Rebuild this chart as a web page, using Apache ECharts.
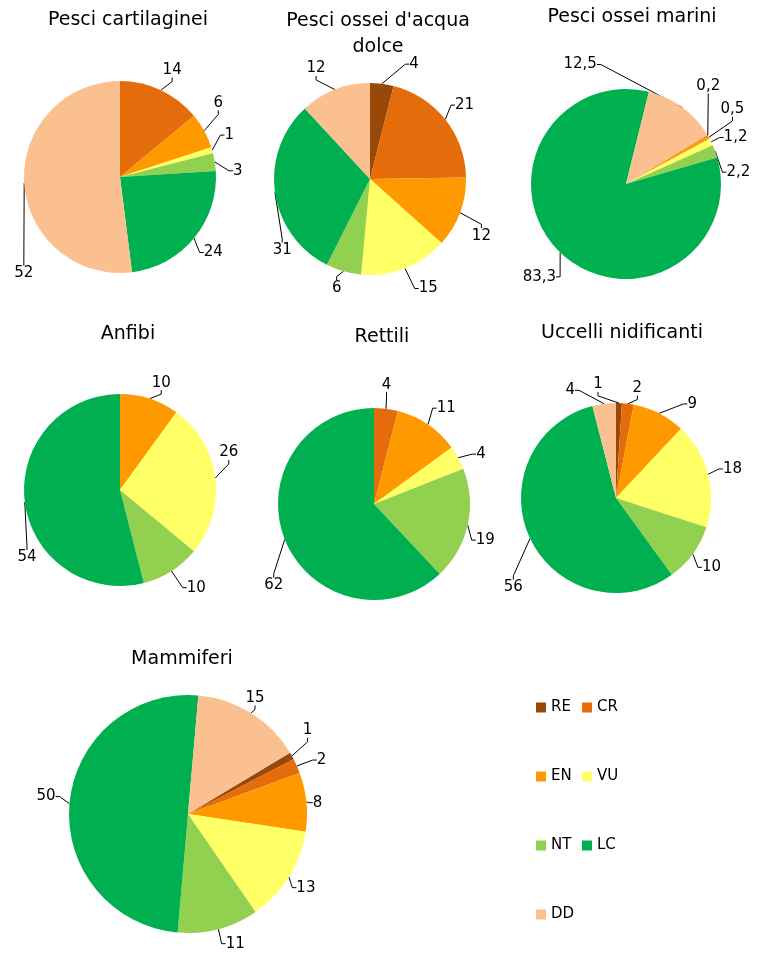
<!DOCTYPE html>
<html>
<head>
<meta charset="utf-8">
<script src="https://cdn.jsdelivr.net/npm/echarts@6/dist/echarts.min.js"></script>
<style>
html,body{margin:0;padding:0;background:#fff;}
#chart{width:759px;height:955px;}
</style>
</head>
<body>
<div id="chart"></div>
<script>
const categories = ['RE', 'CR', 'EN', 'VU', 'NT', 'LC', 'DD'];
const categoryColors = ['#984807', '#E46C0A', '#FF9900', '#FFFF66', '#92D050', '#00B050', '#FAC090'];

const titles = ['Pesci cartilaginei', "Pesci ossei d'acqua\ndolce", 'Pesci ossei marini', 'Anfibi', 'Rettili', 'Uccelli nidificanti', 'Mammiferi'];

const pesciCartilaginei = [null, 14, 6, 1, 3, 24, 52];
const pesciOsseiDolce = [4, 21, 12, 15, 6, 31, 12];
const pesciOsseiMarini = [null, 0.2, 0.5, 1.2, 2.2, 83.3, 12.5];
const anfibi = [null, null, 10, 26, 10, 54, null];
const rettili = [null, 4, 11, 4, 19, 62, null];
const uccelliNidificanti = [1, 2, 9, 18, 10, 56, 4];
const mammiferi = [1, 2, 8, 13, 11, 50, 15];

const seriesValues = [pesciCartilaginei, pesciOsseiDolce, pesciOsseiMarini, anfibi, rettili, uccelliNidificanti, mammiferi];

// ---- layout (positions / sizes / styles) ----
const pieCenters = [[120, 177], [370, 179], [626, 184], [120, 490], [374, 504], [616, 498], [188, 814]];
const pieRadii = [96, 96, 95, 96, 96, 95, 119];
const pieStartAngles = [90, 90, 31, 90, 90, 90, 31];
const titlePos = [[128, 20], [378, 34], [632, 17], [128, 334], [382, 337], [622, 333], [182, 659]];

// label placement: [angle clockwise from 12 o'clock (deg), distance from centre (px)], per category
const labelPlacement = [
  [null, [26, 119], [53, 123], [69, 117], [87, 118], [129, 120], [225, 136]],
  [[21, 123], [52, 120], [117, 125], [152, 124], [197, 114], [231, 113], [334, 123]],
  [null, [40, 128], [55, 130], [67, 119], [84, 113], [223, 127], [339, 128]],
  [null, null, [21, 115], [71, 115], [142, 124], [234, 115], null],
  [null, [6, 120], [37, 120], [65, 118], [108, 117], [231, 129], null],
  [[351, 115], [11, 112], [39, 121], [76, 120], [126, 118], [229, 136], [337, 117]],
  [[55, 146], [68, 144], [85, 130], [122, 139], [160, 138], [277, 143], [30, 134]]
];

const FONT = 'DejaVu Sans';

function fmt(v) { return String(v).replace('.', ','); }

const series = seriesValues.map((vals, i) => ({
  type: 'pie',
  center: pieCenters[i],
  radius: pieRadii[i],
  startAngle: pieStartAngles[i],
  clockwise: true,
  animation: false,
  silent: true,
  avoidLabelOverlap: false,
  data: vals.map((v, k) => v == null ? null : ({
    name: categories[k], value: v, itemStyle: { color: categoryColors[k] }
  })).filter(d => d !== null),
  label: {
    show: true, position: 'outside', formatter: p => fmt(p.value),
    fontFamily: FONT, fontSize: 15, color: '#000', width: 44, overflow: 'none'
  },
  labelLine: { show: true, length: 6, length2: 4, smooth: false, lineStyle: { color: '#000', width: 1 } },
  labelLayout: function (params) {
    const item = series[i].data[params.dataIndex];
    const k = categories.indexOf(item.name);
    const pl = labelPlacement[i][k];
    if (!pl) return {};
    const a = pl[0] * Math.PI / 180;
    return {
      x: pieCenters[i][0] + pl[1] * Math.sin(a),
      y: pieCenters[i][1] - pl[1] * Math.cos(a),
      align: 'center',
      verticalAlign: 'middle'
    };
  },
  itemStyle: { borderWidth: 0 },
  emphasis: { disabled: true }
}));

const graphics = titles.map((t, i) => ({
  type: 'text',
  x: titlePos[i][0], y: titlePos[i][1],
  style: { text: t, fontFamily: FONT, fontSize: 19, fill: '#000', align: 'center', verticalAlign: 'middle', lineHeight: 26 }
}));

const legendBase = {
  orient: 'vertical', icon: 'rect', itemWidth: 10, itemHeight: 10, itemGap: 54, padding: 0,
  textStyle: { fontFamily: FONT, fontSize: 15, color: '#000' }, selectedMode: false
};

const option = {
  backgroundColor: '#fff',
  animation: false,
  legend: [
    Object.assign({}, legendBase, { left: 536, top: 700, data: ['RE', 'EN', 'NT', 'DD'] }),
    Object.assign({}, legendBase, { left: 582, top: 700, data: ['CR', 'VU', 'LC'] })
  ],
  graphic: graphics,
  series: series
};

const chart = echarts.init(document.getElementById('chart'), null, { renderer: 'canvas' });
chart.setOption(option);
</script>
</body>
</html>
